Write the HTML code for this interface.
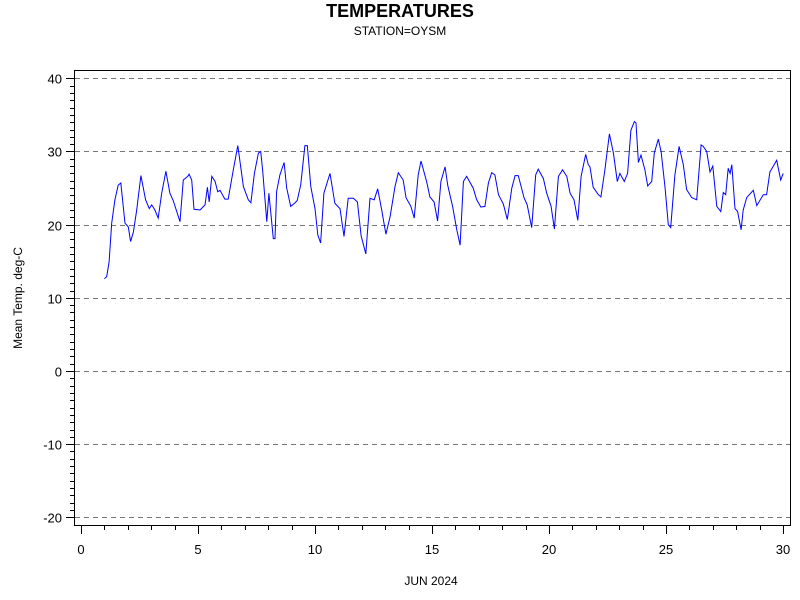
<!DOCTYPE html>
<html><head><meta charset="utf-8"><style>
body{margin:0;background:#fff;}
svg{display:block;font-family:"Liberation Sans",sans-serif;}
</style></head><body>
<svg id="chart" width="800" height="600">
<text x="400" y="17" text-anchor="middle" font-size="18" font-weight="bold">TEMPERATURES</text>
<text x="400" y="35" text-anchor="middle" font-size="12">STATION=OYSM</text>
<text x="431" y="585" text-anchor="middle" font-size="12">JUN 2024</text>
<text transform="translate(22,298) rotate(-90)" text-anchor="middle" font-size="12">Mean Temp. deg-C</text>
<g id="grid"></g><g id="axes"></g><g id="series"></g>
<rect x="74.5" y="70.5" width="716" height="455" fill="none" stroke="#000"/>
</svg>
<script>
const days=[1.00,1.10,1.20,1.31,1.45,1.59,1.70,1.88,2.02,2.12,2.24,2.38,2.56,2.76,2.92,3.02,3.16,3.30,3.45,3.63,3.80,3.94,4.23,4.37,4.56,4.62,4.73,4.83,5.09,5.30,5.40,5.48,5.59,5.73,5.84,5.94,6.15,6.29,6.51,6.70,6.94,7.15,7.26,7.41,7.58,7.68,7.76,7.94,8.03,8.22,8.29,8.36,8.50,8.68,8.79,8.96,9.15,9.24,9.39,9.57,9.67,9.82,10.00,10.12,10.24,10.38,10.64,10.85,11.07,11.24,11.42,11.64,11.81,11.97,12.17,12.35,12.53,12.68,12.85,13.03,13.21,13.42,13.56,13.77,13.89,14.10,14.24,14.41,14.53,14.77,14.91,15.09,15.24,15.38,15.56,15.67,15.88,16.06,16.20,16.34,16.48,16.76,16.91,17.09,17.26,17.41,17.55,17.69,17.84,18.05,18.22,18.41,18.55,18.69,18.93,19.07,19.26,19.43,19.54,19.76,19.90,20.09,20.23,20.40,20.58,20.76,20.90,21.07,21.23,21.37,21.57,21.68,21.75,21.89,22.11,22.22,22.39,22.58,22.75,22.92,23.03,23.22,23.36,23.50,23.65,23.72,23.82,23.93,24.10,24.22,24.39,24.50,24.67,24.79,24.96,25.10,25.20,25.38,25.56,25.74,25.88,26.10,26.31,26.50,26.59,26.74,26.88,27.00,27.17,27.34,27.45,27.55,27.66,27.74,27.81,27.95,28.06,28.21,28.30,28.45,28.73,28.88,29.16,29.30,29.44,29.73,29.90,30.01];
const temps=[12.6,12.9,14.9,20.2,23.4,25.4,25.7,20.2,19.7,17.7,19.0,22.0,26.7,23.4,22.2,22.7,22.0,20.9,24.3,27.3,24.3,23.3,20.4,26.1,26.6,26.9,26.1,22.1,22.0,22.7,25.1,23.1,26.6,25.9,24.5,24.7,23.5,23.5,27.5,30.8,25.2,23.4,23.0,27.0,29.8,30.0,27.5,20.4,24.3,18.1,18.1,24.5,26.8,28.5,25.0,22.5,23.0,23.3,25.4,30.8,30.8,25.2,22.2,18.6,17.5,24.3,27.0,22.9,22.2,18.4,23.6,23.6,23.1,18.5,16.0,23.6,23.4,24.9,22.0,18.7,21.1,25.2,27.1,26.1,23.7,22.5,20.9,26.8,28.7,25.9,23.8,23.1,20.5,25.9,27.9,25.4,22.5,19.3,17.2,25.9,26.6,25.0,23.4,22.4,22.5,25.7,27.1,26.8,24.1,22.8,20.7,25.0,26.7,26.7,23.7,22.7,19.6,26.8,27.6,26.3,24.3,22.5,19.4,26.6,27.5,26.6,24.3,23.4,20.6,26.6,29.6,28.2,27.9,25.1,24.1,23.8,27.5,32.4,29.8,25.9,27.0,25.9,27.0,32.9,34.1,33.9,28.5,29.5,27.5,25.3,25.9,29.8,31.7,30.0,25.0,20.0,19.6,26.8,30.7,28.2,24.8,23.7,23.4,30.9,30.7,30.0,27.2,28.0,22.5,21.8,24.4,24.1,27.7,27.0,28.2,22.2,21.8,19.3,22.0,23.7,24.7,22.6,24.1,24.1,27.2,28.8,26.1,27.0];
const yTicks=[-20,-10,0,10,20,30,40];
const xTicks=[0,5,10,15,20,25,30];
const NS='http://www.w3.org/2000/svg';
const xs=d=>81+d*23.4;
const ys=v=>371-v*7.317;
function mk(tag,attrs,parent){const e=document.createElementNS(NS,tag);for(const k in attrs)e.setAttribute(k,attrs[k]);parent.appendChild(e);return e;}
const grid=document.getElementById('grid'),axes=document.getElementById('axes'),ser=document.getElementById('series');
yTicks.forEach(v=>{
 const y=Math.round(ys(v))+0.5;
 const g=mk('line',{x1:75,x2:791,y1:y,y2:y,stroke:'#777','stroke-dasharray':'5,4'},grid);
 
 
 const t=mk('line',{x1:66,x2:74,y1:y,y2:y,stroke:'#000'},axes);
 
 
 const l=mk('text',{x:62,y:y+5,'text-anchor':'end','font-size':13},axes);
 l.textContent=v;
 
 
});
for(let v=-21;v<=40;v++){if(v%10===0)continue;const y=Math.round(ys(v))+0.5;if(y>525)continue;
 const m=mk('line',{x1:70,x2:74,y1:y,y2:y,stroke:'#000'},axes);
 
 }
for(let d=0;d<=30;d++){const x=Math.round(xs(d))+0.5;const major=d%5===0;
 const m=mk('line',{x1:x,x2:x,y1:526,y2:major?534:530,stroke:'#000'},axes);
 
 }
xTicks.forEach(d=>{
 const l=mk('text',{x:xs(d),y:554,'text-anchor':'middle','font-size':13},axes);
 l.textContent=d;
 
 
});
const pts=days.map((d,i)=>xs(d).toFixed(1)+','+ys(temps[i]).toFixed(1)).join(' ');
const line=mk('polyline',{points:pts,fill:'none',stroke:'#0000ff','stroke-width':1},ser);


</script>
</body></html>
